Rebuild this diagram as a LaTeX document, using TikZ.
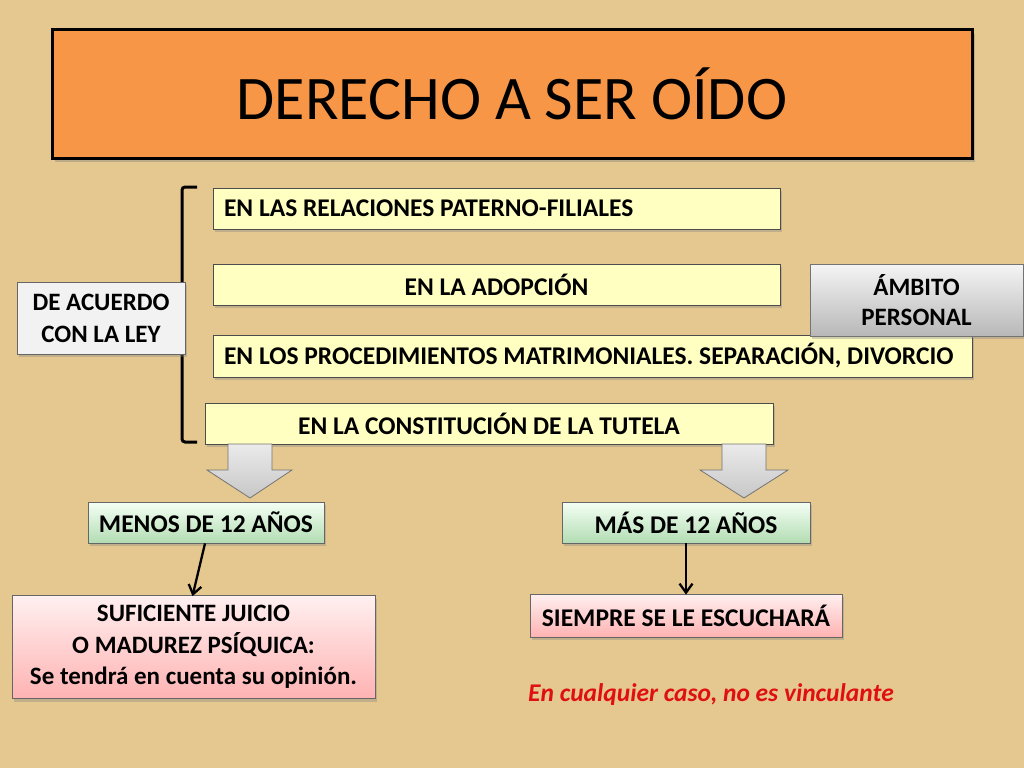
\documentclass[tikz,border=0pt]{standalone}
\usepackage{fontspec}
\setmainfont{Carlito}
\usetikzlibrary{shadows,arrows.meta}
\definecolor{bg}{HTML}{E5C890}
\definecolor{orangeT}{HTML}{F79646}
\definecolor{yel}{HTML}{FFFFC2}
\definecolor{redT}{HTML}{E01010}
\tikzset{
  box/.style={draw=black!70, line width=0.8pt, inner sep=0pt, minimum height=41pt,
    font=\fontsize{25.5}{30}\selectfont\bfseries,
    drop shadow={shadow xshift=2pt, shadow yshift=-3pt, opacity=0.35}},
  yelbox/.style={box, fill=yel},
  leftbox/.style={yelbox, align=flush left, inner xsep=11pt},
  greenbox/.style={box, top color=green!4!white, bottom color=green!55!black!30!white, draw=black!60},
  pinkbox/.style={box, top color=red!6!white, bottom color=red!30!white, draw=black!60, align=center},
  graybox/.style={box, top color=black!4, bottom color=black!28, draw=black!55, align=center},
  blockarrow/.style={draw=black!55, line width=0.8pt, top color=black!8, bottom color=black!22},
  thinarrow/.style={line width=2.3pt, -{Straight Barb[length=9pt,width=13pt,line width=2.3pt]}},
}
\begin{document}
\begin{tikzpicture}[x=1pt,y=-1pt]
\useasboundingbox (0,0) rectangle (1024,768);
\fill[bg] (0,0) rectangle (1024,768);

% bracket
\draw[line width=3pt, rounded corners=3pt] (197,187) -- (182,187) -- (182,442) -- (197,442);

\node[draw=black, line width=3pt, fill=orangeT, minimum width=920pt, minimum height=128pt,
  font=\fontsize{62}{66}\selectfont,
  drop shadow={shadow xshift=3pt, shadow yshift=-4pt, opacity=0.4}] (title) at (512,94) {DERECHO A SER OÍDO};

\node[leftbox, text width=545pt] (b1) at (496.5,208.5) {EN LAS RELACIONES PATERNO-FILIALES};
\node[yelbox, minimum width=567pt] (b2) at (496.5,284.5) {EN LA ADOPCIÓN};
\node[leftbox, text width=737pt, minimum height=42pt] (b3) at (592.5,356) {EN LOS PROCEDIMIENTOS MATRIMONIALES. SEPARACIÓN, DIVORCIO};
\node[yelbox, minimum width=568pt] (b4) at (489,423.5) {EN LA CONSTITUCIÓN DE LA TUTELA};

\node[box, fill=black!5, draw=black!60, minimum width=168pt, minimum height=72pt, align=center, font=\fontsize{25}{32}\selectfont\bfseries] (ley) at (101,318) {DE ACUERDO\\ CON LA LEY};
\node[graybox, minimum width=213pt, minimum height=72pt, font=\fontsize{25}{30}\selectfont\bfseries] (amb) at (916.5,300) {ÁMBITO\\PERSONAL};

% block arrows
\draw[blockarrow] (228,444) -- (272,444) -- (272,470) -- (292,470) -- (250,498) -- (207,470) -- (228,470) -- cycle;
\draw[blockarrow] (722,444) -- (766,444) -- (766,470) -- (788,470) -- (744,498) -- (700,470) -- (722,470) -- cycle;

\node[greenbox, minimum width=236pt] (menos) at (206,522.5) {MENOS DE 12 AÑOS};
\node[greenbox, minimum width=248pt] (mas) at (686,522.5) {MÁS DE 12 AÑOS};

\node[pinkbox, minimum width=363pt, minimum height=103pt, font=\fontsize{25}{31.5}\selectfont\bfseries] (suf) at (193.5,647) {SUFICIENTE JUICIO\\O MADUREZ PSÍQUICA:\\ Se tendrá en cuenta su opinión.};
\node[pinkbox, minimum width=312pt, minimum height=43pt] (siempre) at (686,615.5) {SIEMPRE SE LE ESCUCHARÁ};

\node[text=redT, font=\fontsize{25.5}{30}\selectfont\bfseries\itshape] (nota) at (711,695) {En cualquier caso, no es vinculante};

\draw[thinarrow] ([xshift=-1pt]menos.south) -- ([xshift=-1pt,yshift=-1pt]suf.north);
\draw[thinarrow] (mas.south) -- ([yshift=-1pt]siempre.north);
\end{tikzpicture}
\end{document}
